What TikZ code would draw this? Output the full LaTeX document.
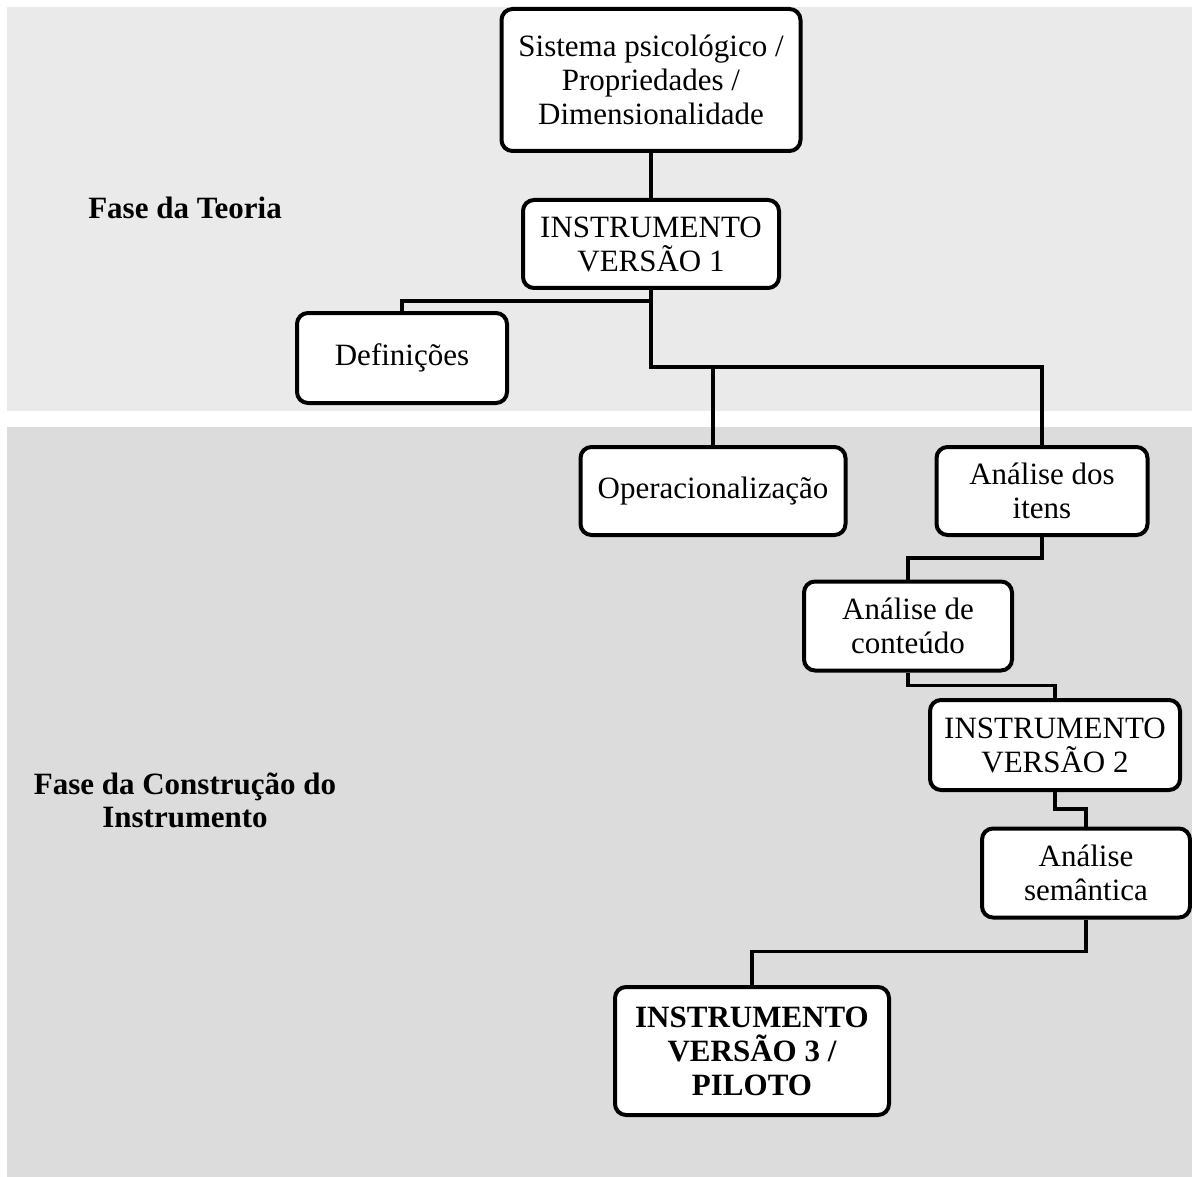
\documentclass[tikz,border=0pt]{standalone}
\usepackage{fontspec}
\setmainfont{Liberation Serif}
\usetikzlibrary{positioning}

\definecolor{fundoteoria}{HTML}{EAEAEA}
\definecolor{fundoconstrucao}{HTML}{DCDCDC}

\begin{document}
\begin{tikzpicture}[x=1pt, y=-1pt,
		caixa/.style = {draw, fill=white, line width=4pt, rounded corners=11pt, align=center, inner sep=0pt, font=\fontsize{31}{34}\selectfont},
		fase/.style = {align=center, font=\fontsize{31}{33}\selectfont\bfseries},
		linha/.style = {line width=3.2pt}]
		\useasboundingbox (0,0) rectangle (1192,1177);
		\fill [fundoteoria] (7,7) rectangle (1192,411);
		\fill [fundoconstrucao] (7,427) rectangle (1192,1177);

		\node [fase] (teoria) at (185,208) {Fase da Teoria};
		\node [fase] (construcao) at (185,800) {Fase da Construção do\\Instrumento};

		\node [caixa, minimum width=299pt, minimum height=142pt] (sis) at (651,80) {Sistema psicológico /\\Propriedades /\\Dimensionalidade};
		\node [caixa, minimum width=256pt, minimum height=88pt, below = 45pt of sis] (v1) {INSTRUMENTO\\VERSÃO 1};
		\node [caixa, minimum width=210pt, minimum height=90pt] (def) at (402,358) {Definições};
		\node [caixa, minimum width=265pt, minimum height=88pt] (oper) at (713,491) {Operacionalização};
		\node [caixa, minimum width=211pt, minimum height=88pt] (itens) at (1042,491) {Análise dos\\itens};
		\node [caixa, minimum width=208pt, minimum height=89pt] (cont) at (908,626) {Análise de\\conteúdo};
		\node [caixa, minimum width=250pt, minimum height=90pt] (v2) at (1055,745) {INSTRUMENTO\\VERSÃO 2};
		\node [caixa, minimum width=208pt, minimum height=89pt] (sem) at (1086,873) {Análise\\semântica};
		\node [caixa, minimum width=274pt, minimum height=128pt, font=\fontsize{31}{34}\selectfont\bfseries] (v3) at (752,1051) {INSTRUMENTO\\VERSÃO 3 /\\PILOTO};

		\coordinate (ramo) at (651,367);
		\draw [linha] (sis) -- (v1);
		\draw [linha] (v1.south) -- ++(0,11) -| (def.north);
		\draw [linha] (v1.south) -- (ramo) -| (itens.north);
		\draw [linha] (ramo -| oper.north) -- (oper.north);
		\draw [linha] (itens.south) -- ++(0,21) -| (cont.north);
		\draw [linha] (cont.south) -- ++(0,13) -| (v2.north);
		\draw [linha] (v2.south) -- ++(0,17) -| (sem.north);
		\draw [linha] (sem.south) -- ++(0,32) -| (v3.north);
	\end{tikzpicture}
\end{document}
